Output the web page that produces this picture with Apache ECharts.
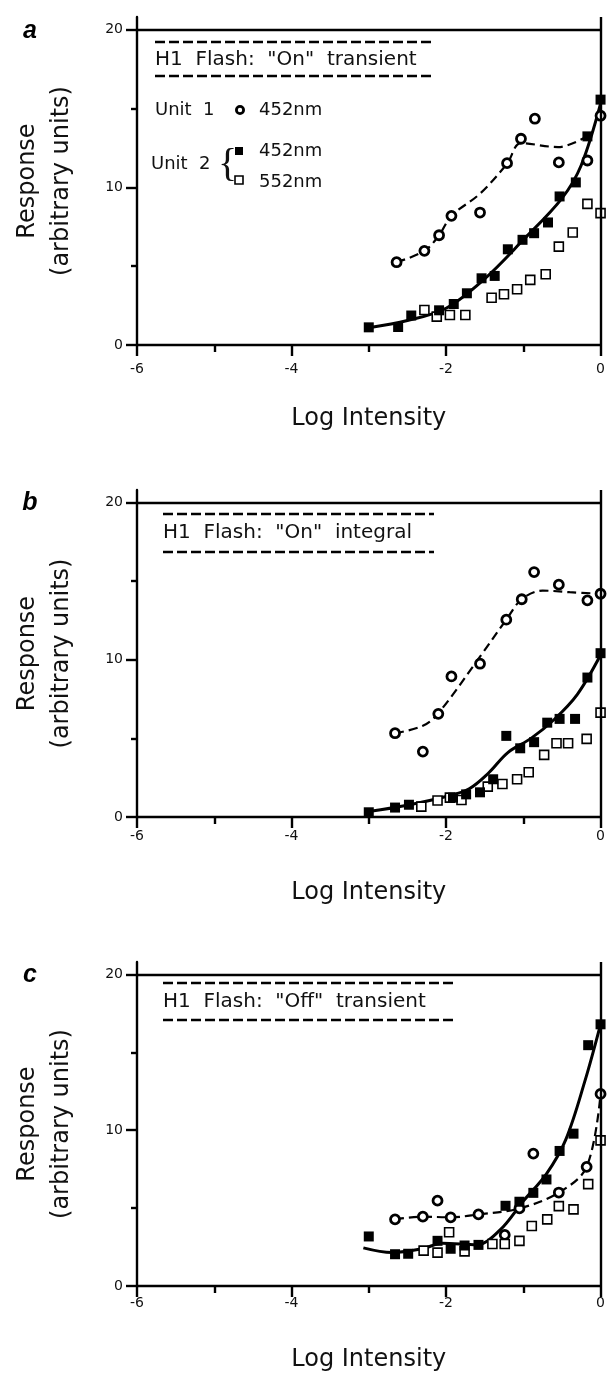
<!DOCTYPE html>
<html>
<head>
<meta charset="utf-8">
<script src="https://cdn.jsdelivr.net/npm/echarts@6/dist/echarts.min.js"></script>
<style>
  body { margin: 0; background: #fff; }
  #main { width: 608px; height: 1373px; }
</style>
</head>
<body>
<div id="main"></div>
<script>
// tick values
var xMajor = [-6, -4, -2, 0];
var xMinor = [-5, -3, -1];
var yMajor = [0, 10, 20];
var yMinor = [5, 15];

// panel a : "On" transient
var aUnit1 = [[-2.64,5.25],[-2.28,5.97],[-2.09,6.96],[-1.93,8.19],[-1.56,8.40],[-1.21,11.53],[-1.03,13.08],[-0.85,14.35],[-0.54,11.58],[-0.17,11.7],[0,14.54]];
var a452 = [[-3,1.12],[-2.62,1.14],[-2.45,1.87],[-2.09,2.2],[-1.90,2.6],[-1.73,3.28],[-1.54,4.23],[-1.37,4.38],[-1.20,6.07],[-1.01,6.67],[-0.86,7.09],[-0.68,7.77],[-0.53,9.42],[-0.32,10.31],[-0.17,13.23],[0,15.56]];
var a552 = [[-2.28,2.22],[-2.12,1.8],[-1.95,1.9],[-1.75,1.9],[-1.41,3.0],[-1.25,3.22],[-1.08,3.54],[-0.91,4.13],[-0.71,4.49],[-0.54,6.24],[-0.36,7.13],[-0.17,8.95],[0,8.36]];
var aFit452 = [[-3,1.1],[-2.5,1.55],[-2,2.33],[-1.5,4.2],[-1,6.67],[-0.5,9.3],[-0.25,11.4],[0,15.3]];
var aFitUnit1 = [[-2.64,5.25],[-2.28,5.97],[-2.09,6.96],[-1.93,8.19],[-1.56,9.6],[-1.21,11.5],[-1.03,12.8],[-0.55,12.55],[-0.15,13.3]];

// panel b : "On" integral
var bUnit1 = [[-2.66,5.33],[-2.30,4.16],[-2.10,6.56],[-1.93,8.94],[-1.56,9.75],[-1.22,12.55],[-1.02,13.85],[-0.86,15.58],[-0.54,14.78],[-0.17,13.78],[0,14.2]];
var b452 = [[-3,0.3],[-2.66,0.6],[-2.48,0.78],[-1.91,1.23],[-1.74,1.44],[-1.56,1.57],[-1.39,2.4],[-1.22,5.16],[-1.04,4.37],[-0.86,4.76],[-0.69,6.0],[-0.53,6.24],[-0.33,6.24],[-0.17,8.87],[0,10.42]];
var b552 = [[-2.32,0.66],[-2.11,1.05],[-1.95,1.23],[-1.80,1.08],[-1.46,1.93],[-1.27,2.1],[-1.08,2.4],[-0.93,2.85],[-0.73,3.95],[-0.57,4.69],[-0.42,4.69],[-0.18,4.97],[0,6.64]];
var bFit452 = [[-3,0.35],[-2.5,0.75],[-2,1.3],[-1.7,1.8],[-1.45,2.8],[-1.2,4.1],[-0.9,5.0],[-0.6,6.2],[-0.3,7.8],[0,10.3]];
var bFitUnit1 = [[-2.66,5.33],[-2.3,5.8],[-2.1,6.6],[-1.56,10.2],[-1.22,12.55],[-1.02,13.85],[-0.75,14.4],[-0.4,14.3],[0,14.2]];

// panel c : "Off" transient
var cUnit1 = [[-2.66,4.28],[-2.30,4.45],[-2.11,5.48],[-1.94,4.41],[-1.58,4.6],[-1.24,3.28],[-1.05,4.98],[-0.87,8.5],[-0.54,6.0],[-0.18,7.65],[0,12.33]];
var c452 = [[-3,3.18],[-2.66,2.04],[-2.49,2.07],[-2.11,2.9],[-1.94,2.39],[-1.76,2.6],[-1.58,2.64],[-1.23,5.15],[-1.05,5.41],[-0.87,5.98],[-0.70,6.84],[-0.53,8.67],[-0.35,9.78],[-0.16,15.46],[0,16.8]];
var c552 = [[-2.29,2.27],[-2.11,2.14],[-1.96,3.45],[-1.76,2.22],[-1.40,2.7],[-1.24,2.7],[-1.05,2.9],[-0.89,3.85],[-0.69,4.28],[-0.54,5.13],[-0.35,4.92],[-0.16,6.54],[0,9.35]];
var cFit452 = [[-3.07,2.45],[-2.7,2.15],[-2.3,2.4],[-2.05,2.75],[-1.6,2.65],[-1.3,3.6],[-1.0,5.45],[-0.7,7.2],[-0.45,9.4],[-0.2,13.2],[0,16.8]];
var cFitUnit1 = [[-2.66,4.28],[-2.3,4.45],[-1.94,4.41],[-1.58,4.6],[-1.05,4.98],[-0.54,6.0],[-0.18,7.65],[0,12.33]];

var panelTitles = ['H1  Flash:  "On"  transient', 'H1  Flash:  "On"  integral', 'H1  Flash:  "Off"  transient'];
var panelLetters = ['a', 'b', 'c'];

var FONT = 'DejaVu Sans';
var INK = '#111';

var chart = echarts.init(document.getElementById('main'), null, { renderer: 'canvas' });

var grids = [
  { left: 137, right: 7, top: 17, bottom: 1028 },
  { left: 137, right: 7, top: 490, bottom: 556 },
  { left: 137, right: 7, top: 962, bottom: 85 }
];
var xLabelMargin = [17, 12, 10];
var xNameGap = [62, 64, 62];

var xAxes = [], yAxes = [], series = [];

function addPanel(i, unit1, s452, s552, fit452, fitUnit1) {
  var line = { color: '#000', width: 2.4 };
  xAxes.push({
    gridIndex: i, type: 'value', min: -6, max: 0, interval: 2, position: 'bottom',
    axisLine: { show: true, onZero: false, lineStyle: line },
    axisTick: { show: true, length: 11, customValues: xMajor, lineStyle: line },
    axisLabel: { customValues: xMajor, margin: xLabelMargin[i], fontSize: 14, color: INK, fontFamily: FONT },
    splitLine: { show: false },
    name: 'Log Intensity', nameLocation: 'middle', nameGap: xNameGap[i],
    nameTextStyle: { fontSize: 24, color: INK, fontFamily: FONT }
  });
  xAxes.push({
    gridIndex: i, type: 'value', min: -6, max: 0, interval: 2, position: 'bottom',
    axisLine: { show: false, onZero: false },
    axisTick: { show: true, length: 7, customValues: xMinor, lineStyle: line },
    axisLabel: { show: false },
    splitLine: { show: false }
  });
  yAxes.push({
    gridIndex: i, type: 'value', min: 0, max: 20.8, position: 'left',
    axisLine: { show: true, onZero: false, lineStyle: line },
    axisTick: { show: true, length: 11, customValues: yMajor, lineStyle: line },
    axisLabel: { customValues: yMajor, margin: 14, fontSize: 14, color: INK, fontFamily: FONT },
    splitLine: { show: false },
    name: 'Response\n(arbitrary units)', nameLocation: 'middle', nameRotate: 90, nameGap: 58,
    nameTextStyle: { fontSize: 24, lineHeight: 34, color: INK, fontFamily: FONT, align: 'center' }
  });
  yAxes.push({
    gridIndex: i, type: 'value', min: 0, max: 20.8, position: 'left',
    axisLine: { show: false, onZero: false },
    axisTick: { show: true, length: 6, customValues: yMinor, lineStyle: line },
    axisLabel: { show: false },
    splitLine: { show: false }
  });

  var xi = i * 2, yi = i * 2;
  series.push({
    type: 'line', xAxisIndex: xi, yAxisIndex: yi, data: fit452,
    smooth: 0.35, showSymbol: false, silent: true, z: 2,
    lineStyle: { color: '#000', width: 3 },
    // top frame line at 20 and right frame line at 0
    markLine: {
      silent: true, symbol: 'none', label: { show: false },
      lineStyle: { color: '#000', width: 2.4, type: 'solid' },
      data: [{ yAxis: 20 }, { xAxis: 0 }]
    }
  });
  series.push({
    type: 'line', xAxisIndex: xi, yAxisIndex: yi, data: fitUnit1,
    smooth: 0.35, showSymbol: false, silent: true, z: 2,
    lineStyle: { color: '#000', width: 2.2, type: [9, 5] }
  });
  series.push({
    type: 'scatter', xAxisIndex: xi, yAxisIndex: yi, data: unit1, z: 4,
    symbol: 'circle', symbolSize: 9,
    itemStyle: { color: '#fff', borderColor: '#000', borderWidth: 2.8, opacity: 1 }
  });
  series.push({
    type: 'scatter', xAxisIndex: xi, yAxisIndex: yi, data: s552, z: 4,
    symbol: 'rect', symbolSize: 9,
    itemStyle: { color: '#fff', borderColor: '#000', borderWidth: 1.6, opacity: 1 }
  });
  series.push({
    type: 'scatter', xAxisIndex: xi, yAxisIndex: yi, data: s452, z: 5,
    symbol: 'rect', symbolSize: 10,
    itemStyle: { color: '#000', opacity: 1 }
  });
}

addPanel(0, aUnit1, a452, a552, aFit452, aFitUnit1);
addPanel(1, bUnit1, b452, b552, bFit452, bFitUnit1);
addPanel(2, cUnit1, c452, c552, cFit452, cFitUnit1);

// titles boxed by dashed rules, panel letters
var graphics = [];
var titleBox = [
  { x: 155, x2: 432, top: 42, mid: 60, bot: 76 },
  { x: 163, x2: 434, top: 514, mid: 533, bot: 552 },
  { x: 163, x2: 457, top: 983, mid: 1002, bot: 1020 }
];
var letterY = [31, 503, 975];
titleBox.forEach(function (b, i) {
  var dash = { stroke: '#000', lineWidth: 2.6, lineDash: [10, 4] };
  graphics.push({ type: 'line', shape: { x1: b.x, y1: b.top, x2: b.x2, y2: b.top }, style: dash });
  graphics.push({ type: 'line', shape: { x1: b.x, y1: b.bot, x2: b.x2, y2: b.bot }, style: dash });
  graphics.push({
    type: 'text', x: b.x, y: b.mid,
    style: { text: panelTitles[i], font: '20px "DejaVu Sans"', fill: INK, textVerticalAlign: 'middle' }
  });
  graphics.push({
    type: 'text', x: 30, y: letterY[i],
    style: { text: panelLetters[i], font: 'italic bold 25px "Liberation Sans"', fill: '#000', textAlign: 'center', textVerticalAlign: 'middle' }
  });
});

// legend of panel a
var legFont = '18px "DejaVu Sans"';
graphics.push({ type: 'text', x: 155, y: 110, style: { text: 'Unit  1', font: legFont, fill: INK, textVerticalAlign: 'middle' } });
graphics.push({ type: 'circle', shape: { cx: 240, cy: 110, r: 3.6 }, style: { fill: '#fff', stroke: '#000', lineWidth: 2.8 } });
graphics.push({ type: 'text', x: 259, y: 110, style: { text: '452nm', font: legFont, fill: INK, textVerticalAlign: 'middle' } });
graphics.push({ type: 'text', x: 151, y: 164, style: { text: 'Unit  2', font: legFont, fill: INK, textVerticalAlign: 'middle' } });
graphics.push({ type: 'text', x: 218, y: 165, style: { text: '{', font: '40px "Liberation Serif"', fill: INK, textVerticalAlign: 'middle' } });
graphics.push({ type: 'rect', shape: { x: 235, y: 147, width: 8, height: 8 }, style: { fill: '#000' } });
graphics.push({ type: 'text', x: 259, y: 151, style: { text: '452nm', font: legFont, fill: INK, textVerticalAlign: 'middle' } });
graphics.push({ type: 'rect', shape: { x: 235, y: 176, width: 8, height: 8 }, style: { fill: '#fff', stroke: '#000', lineWidth: 1.6 } });
graphics.push({ type: 'text', x: 259, y: 182, style: { text: '552nm', font: legFont, fill: INK, textVerticalAlign: 'middle' } });

var option = {
  animation: false,
  backgroundColor: '#fff',
  grid: grids,
  xAxis: xAxes,
  yAxis: yAxes,
  series: series,
  graphic: graphics
};
chart.setOption(option);
</script>
</body>
</html>
